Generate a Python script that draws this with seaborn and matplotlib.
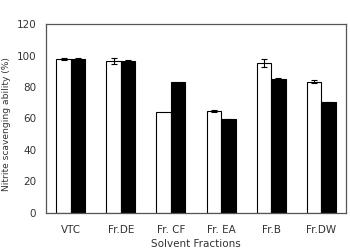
import matplotlib
matplotlib.use("Agg")
import matplotlib.pyplot as plt
import seaborn as sns
import pandas as pd
import numpy as np

categories = ["VTC", "Fr.DE", "Fr. CF", "Fr. EA", "Fr.B", "Fr.DW"]
series_names = ["A", "B"]
values_a = [97.8, 96.7, 64.2, 65.0, 95.2, 83.3]
values_b = [98.0, 96.8, 83.4, 59.5, 85.3, 70.3]
err_a = [0.6, 2.0, 0.0, 0.6, 2.5, 1.0]
err_b = [0.4, 0.4, 0.0, 0.3, 0.4, 0.3]
yticks = [0, 20, 40, 60, 80, 100, 120]

df = pd.DataFrame({
    "cat": categories * 2,
    "val": values_a + values_b,
    "series": [series_names[0]] * len(categories) + [series_names[1]] * len(categories),
})

sns.set_style("white")
plt.rcParams["font.family"] = ["DejaVu Sans"]

fig = plt.figure(figsize=(3.5, 2.5), dpi=100)
ax = fig.add_axes([0.131, 0.149, 0.858, 0.754])

sns.barplot(data=df, x="cat", y="val", hue="series", order=categories,
            hue_order=series_names, palette=["white", "black"],
            edgecolor="black", linewidth=0.8, width=0.58, errorbar=None,
            legend=False, ax=ax)

errs = err_a + err_b
for p, e in zip(ax.patches, errs):
    if e > 0:
        ax.errorbar(p.get_x() + p.get_width() / 2, p.get_height(), yerr=e,
                    fmt="none", ecolor="black", elinewidth=0.8, capsize=2.5,
                    capthick=0.8, zorder=5)

ax.set_ylim(0, 120)
ax.set_xlim(-0.5, len(categories) - 0.5)
ax.set_yticks(yticks)
ax.set_yticklabels([str(t) for t in yticks])
ax.tick_params(axis="y", length=0, labelsize=7.5, pad=7, colors="#333333")
ax.tick_params(axis="x", length=0, labelsize=7.5, pad=9, colors="#333333")
ax.set_xlabel("Solvent Fractions", fontsize=7.5, color="#333333", labelpad=3)
ax.set_ylabel("Nitrite scavenging ability (%)", fontsize=6.6, color="#333333")
ax.yaxis.set_label_coords(-0.117, 0.47)
for s in ax.spines.values():
    s.set_visible(True)
    s.set_color("#555555")
    s.set_linewidth(0.9)

fig.savefig("out.png", dpi=100)
